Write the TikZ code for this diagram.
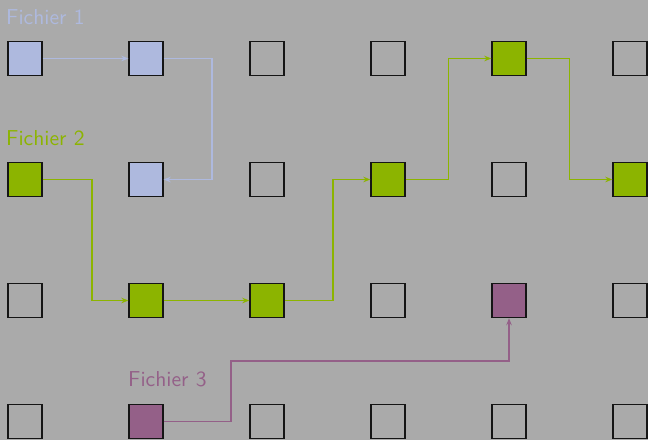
\documentclass[tikz,border=0pt]{standalone}
\usetikzlibrary{arrows.meta}
\definecolor{bg}{HTML}{AAAAAA}
\definecolor{cone}{HTML}{AEB9DE}
\definecolor{ctwo}{HTML}{8CB400}
\definecolor{cthree}{HTML}{946088}
\definecolor{edge}{HTML}{151515}
\begin{document}
\begin{tikzpicture}[x=1pt,y=-1pt,
  cell/.style={draw=edge, line width=1.4pt, minimum size=34pt, inner sep=0pt},
  link/.style={line width=1.9pt, -{Stealth[length=7pt,width=5.5pt]}},
  lbl/.style={anchor=base west, inner sep=0pt, scale=2.16, transform shape, font=\sffamily\fontsize{10}{12}\selectfont}]
\fill[bg] (0,0) rectangle (648,440);
\useasboundingbox (0,0) rectangle (648,440);
\foreach \c/\r/\f in {0/0/cone,1/0/cone,2/0/bg,3/0/bg,4/0/ctwo,5/0/bg,
                      0/1/ctwo,1/1/cone,2/1/bg,3/1/ctwo,4/1/bg,5/1/ctwo,
                      0/2/bg,1/2/ctwo,2/2/ctwo,3/2/bg,4/2/cthree,5/2/bg,
                      0/3/bg,1/3/cthree,2/3/bg,3/3/bg,4/3/bg,5/3/bg}
  \node[cell, fill=\f] (s\c\r) at (25+121*\c, 58.5+121*\r) {};
\node[lbl, text=cone] (l1) at (5.8,24) {Fichier 1};
\node[lbl, text=ctwo] (l2) at (5.8,145) {Fichier 2};
\node[lbl, text=cthree] (l3) at (127.8,386.7) {Fichier 3};
% Fichier 1
\coordinate (b1) at (212.3,0);
\draw[link, cone] (s00.east) -- (s10.west);
\draw[link, cone] (s10.east) -- (s10.east -| b1) |- (s11.east);
% Fichier 2
\coordinate (g1) at (91.7,0);
\coordinate (g2) at (333.3,0);
\coordinate (g3) at (448.5,0);
\coordinate (g4) at (569.5,0);
\draw[link, ctwo] (s01.east) -- (s01.east -| g1) |- (s12.west);
\draw[link, ctwo] (s12.east) -- (s22.west);
\draw[link, ctwo] (s22.east) -- (s22.east -| g2) |- (s31.west);
\draw[link, ctwo] (s31.east) -- (s31.east -| g3) |- (s40.west);
\draw[link, ctwo] (s40.east) -- (s40.east -| g4) |- (s51.west);
% Fichier 3
\coordinate (p1) at (230.7,361);
\draw[link, cthree] (s13.east) -- (s13.east -| p1) -- (p1) -| (s42.south);
\end{tikzpicture}
\end{document}
